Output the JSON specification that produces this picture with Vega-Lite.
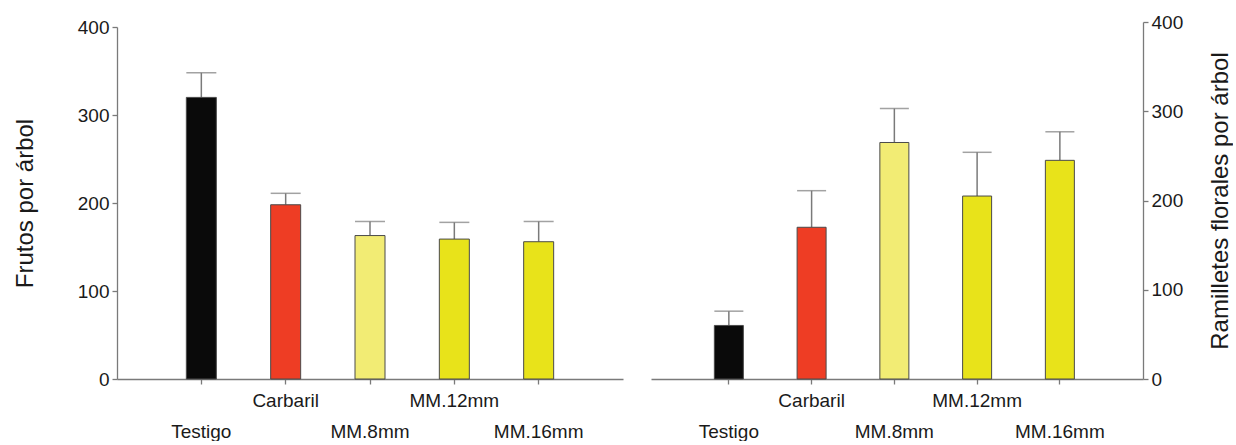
{
  "$schema": "https://vega.github.io/schema/vega-lite/v6.json",
  "padding": {"left": 13, "top": 13, "right": 0, "bottom": 0},
  "background": "white",
  "datasets": {
    "frutos": [
      {"tratamiento": "Testigo", "media": 320, "superior": 348},
      {"tratamiento": "Carbaril", "media": 198, "superior": 211},
      {"tratamiento": "MM.8mm", "media": 163, "superior": 179},
      {"tratamiento": "MM.12mm", "media": 159, "superior": 178},
      {"tratamiento": "MM.16mm", "media": 156, "superior": 179}
    ],
    "ramilletes": [
      {"tratamiento": "Testigo", "media": 60, "superior": 76},
      {"tratamiento": "Carbaril", "media": 170, "superior": 211},
      {"tratamiento": "MM.8mm", "media": 265, "superior": 303},
      {"tratamiento": "MM.12mm", "media": 205, "superior": 254},
      {"tratamiento": "MM.16mm", "media": 245, "superior": 277}
    ]
  },
  "config": {
    "font": "Liberation Sans",
    "view": {"stroke": null},
    "concat": {"spacing": 28},
    "axis": {
      "domainColor": "#7a7a7a",
      "domainWidth": 1.3,
      "tickColor": "#7a7a7a",
      "tickWidth": 1.3,
      "tickSize": 5,
      "grid": false,
      "labelColor": "#1a1a1a",
      "labelFontSize": 19,
      "titleColor": "#1a1a1a",
      "titleFontSize": 24,
      "titleFontWeight": "normal"
    }
  },
  "hconcat": [
    {
      "width": 506,
      "height": 357,
      "data": {"name": "frutos"},
      "encoding": {
        "x": {
          "field": "tratamiento",
          "type": "nominal",
          "sort": null,
          "scale": {"paddingInner": 0.644, "paddingOuter": 0.822},
          "axis": {
            "title": null,
            "labelAngle": 0,
            "labelBaseline": "top",
            "labelPadding": {"condition": {"test": "round(datum.index*4) % 2 == 0", "value": 38}, "value": 7.6}
          }
        }
      },
      "layer": [
        {
          "mark": {"type": "rule", "color": "#7a7a7a", "strokeWidth": 1.5},
          "encoding": {
            "y": {"field": "media", "type": "quantitative", "scale": {"domain": [0, 400], "range": [357, 5]}},
            "y2": {"field": "superior"}
          }
        },
        {
          "mark": {"type": "tick", "orient": "horizontal", "size": 30, "thickness": 1.5, "color": "#7a7a7a"},
          "encoding": {
            "y": {"field": "superior", "type": "quantitative"}
          }
        },
        {
          "mark": {"type": "bar", "width": 30, "stroke": "#4a4a4a", "strokeWidth": 1},
          "encoding": {
            "y": {
              "field": "media",
              "type": "quantitative",
              "scale": {"domain": [0, 400], "range": [357, 5]},
              "axis": {"title": "Frutos por árbol", "values": [0, 100, 200, 300, 400], "titlePadding": 40, "labelPadding": 3}
            },
            "color": {
              "field": "tratamiento",
              "type": "nominal",
              "scale": {"domain": ["Testigo", "Carbaril", "MM.8mm", "MM.12mm", "MM.16mm"], "range": ["#0a0a0a", "#ee3d24", "#f2ec74", "#e8e31a", "#e8e31a"]},
              "legend": null
            }
          }
        }
      ]
    },
    {
      "width": 492,
      "height": 357,
      "data": {"name": "ramilletes"},
      "encoding": {
        "x": {
          "field": "tratamiento",
          "type": "nominal",
          "sort": null,
          "scale": {"paddingInner": 0.65, "paddingOuter": 0.7976, "align": 0.48},
          "axis": {
            "title": null,
            "labelAngle": 0,
            "labelBaseline": "top",
            "labelPadding": {"condition": {"test": "round(datum.index*4) % 2 == 0", "value": 38}, "value": 7.6}
          }
        }
      },
      "layer": [
        {
          "mark": {"type": "rule", "color": "#7a7a7a", "strokeWidth": 1.5},
          "encoding": {
            "y": {"field": "media", "type": "quantitative", "scale": {"domain": [0, 400]}},
            "y2": {"field": "superior"}
          }
        },
        {
          "mark": {"type": "tick", "orient": "horizontal", "size": 29, "thickness": 1.5, "color": "#7a7a7a"},
          "encoding": {
            "y": {"field": "superior", "type": "quantitative"}
          }
        },
        {
          "mark": {"type": "bar", "width": 29, "stroke": "#4a4a4a", "strokeWidth": 1},
          "encoding": {
            "y": {
              "field": "media",
              "type": "quantitative",
              "scale": {"domain": [0, 400]},
              "axis": {"orient": "right", "title": "Ramilletes florales por árbol", "titleAngle": 270, "titleBaseline": "top", "values": [0, 100, 200, 300, 400], "titlePadding": 26, "labelPadding": 3}
            },
            "color": {
              "field": "tratamiento",
              "type": "nominal",
              "scale": {"domain": ["Testigo", "Carbaril", "MM.8mm", "MM.12mm", "MM.16mm"], "range": ["#0a0a0a", "#ee3d24", "#f2ec74", "#e8e31a", "#e8e31a"]},
              "legend": null
            }
          }
        }
      ]
    }
  ]
}
